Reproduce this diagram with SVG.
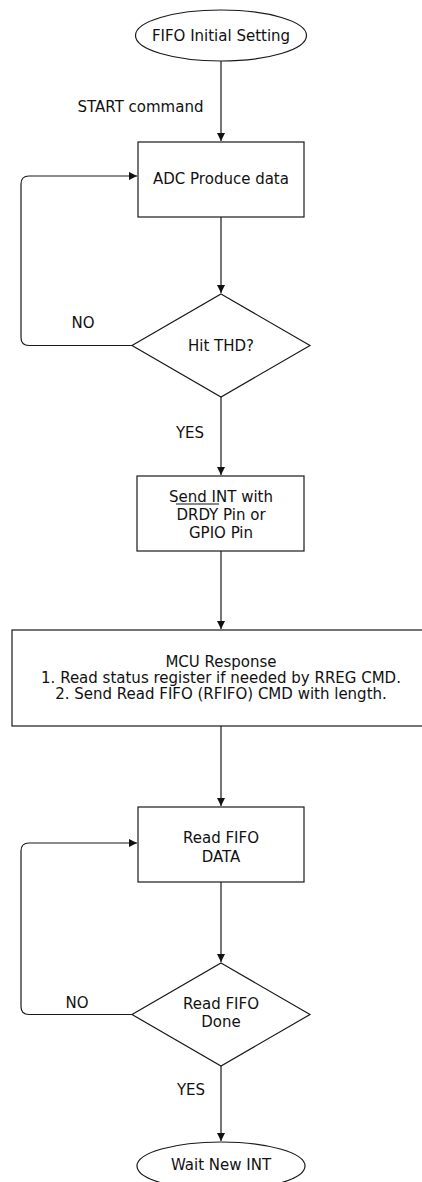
<svg xmlns="http://www.w3.org/2000/svg" width="422" height="1182" viewBox="0 0 422 1182">
<style>
.shape{fill:#fff;stroke:#1a1a1a;stroke-width:1.2}
.conn{fill:none;stroke:#1a1a1a;stroke-width:1.2}
.t{font-family:"DejaVu Sans","Liberation Sans",sans-serif;font-size:15px;fill:#111;text-anchor:middle}
</style>
<defs>
<marker id="arr" markerWidth="10" markerHeight="10" refX="8" refY="4" orient="auto" markerUnits="userSpaceOnUse">
<path d="M0,0 L8,4 L0,8 Z" fill="#111"/>
</marker>
</defs>
<rect width="422" height="1182" fill="#fff"/>
<g id="connectors">
<path class="conn" d="M221,61 V141" marker-end="url(#arr)"/>
<path class="conn" d="M221,217 V293" marker-end="url(#arr)"/>
<path class="conn" d="M132,345.5 H29 Q21,345.5 21,337.5 V184 Q21,176 29,176 H137" marker-end="url(#arr)"/>
<path class="conn" d="M221,397 V475" marker-end="url(#arr)"/>
<path class="conn" d="M221,551 V629" marker-end="url(#arr)"/>
<path class="conn" d="M221,726 V806" marker-end="url(#arr)"/>
<path class="conn" d="M221,882 V962" marker-end="url(#arr)"/>
<path class="conn" d="M132,1014.5 H29 Q21,1014.5 21,1006.5 V851 Q21,843 29,843 H137" marker-end="url(#arr)"/>
<path class="conn" d="M221,1066 V1141" marker-end="url(#arr)"/>
<text class="t" x="140.5" y="112">START command</text>
<text class="t" x="83" y="328">NO</text>
<text class="t" x="190" y="438">YES</text>
<text class="t" x="77" y="1008">NO</text>
<text class="t" x="191" y="1095">YES</text>
</g>
<g id="start">
<ellipse class="shape" cx="221" cy="35.5" rx="85.5" ry="25.5"/>
<text class="t" x="221" y="41">FIFO Initial Setting</text>
</g>
<g id="adc">
<rect class="shape" x="138" y="142" width="166" height="75"/>
<text class="t" x="221" y="184">ADC Produce data</text>
</g>
<g id="hit-thd">
<polygon class="shape" points="221,294 310,345.5 221,397 132,345.5"/>
<text class="t" x="221" y="351">Hit THD?</text>
</g>
<g id="send-int">
<rect class="shape" x="137" y="476" width="167" height="75"/>
<text class="t" x="221" y="502">Send INT with</text>
<text class="t" x="221" y="520">DRDY Pin or</text>
<line x1="176" y1="504" x2="219" y2="504" stroke="#111" stroke-width="1"/>
<text class="t" x="221" y="538">GPIO Pin</text>
</g>
<g id="mcu">
<rect class="shape" x="12" y="630" width="418" height="96"/>
<text class="t" x="221" y="667">MCU Response</text>
<text class="t" x="221" y="683">1. Read status register if needed by RREG CMD.</text>
<text class="t" x="221" y="699">2. Send Read FIFO (RFIFO) CMD with length.</text>
</g>
<g id="read-fifo">
<rect class="shape" x="138" y="807" width="166" height="75"/>
<text class="t" x="221" y="843">Read FIFO</text>
<text class="t" x="221" y="862">DATA</text>
</g>
<g id="fifo-done">
<polygon class="shape" points="221,963 310,1014.5 221,1066 132,1014.5"/>
<text class="t" x="221" y="1009">Read FIFO</text>
<text class="t" x="221" y="1027">Done</text>
</g>
<g id="wait">
<ellipse class="shape" cx="221" cy="1166" rx="84" ry="24"/>
<text class="t" x="221" y="1170">Wait New INT</text>
</g>
</svg>
